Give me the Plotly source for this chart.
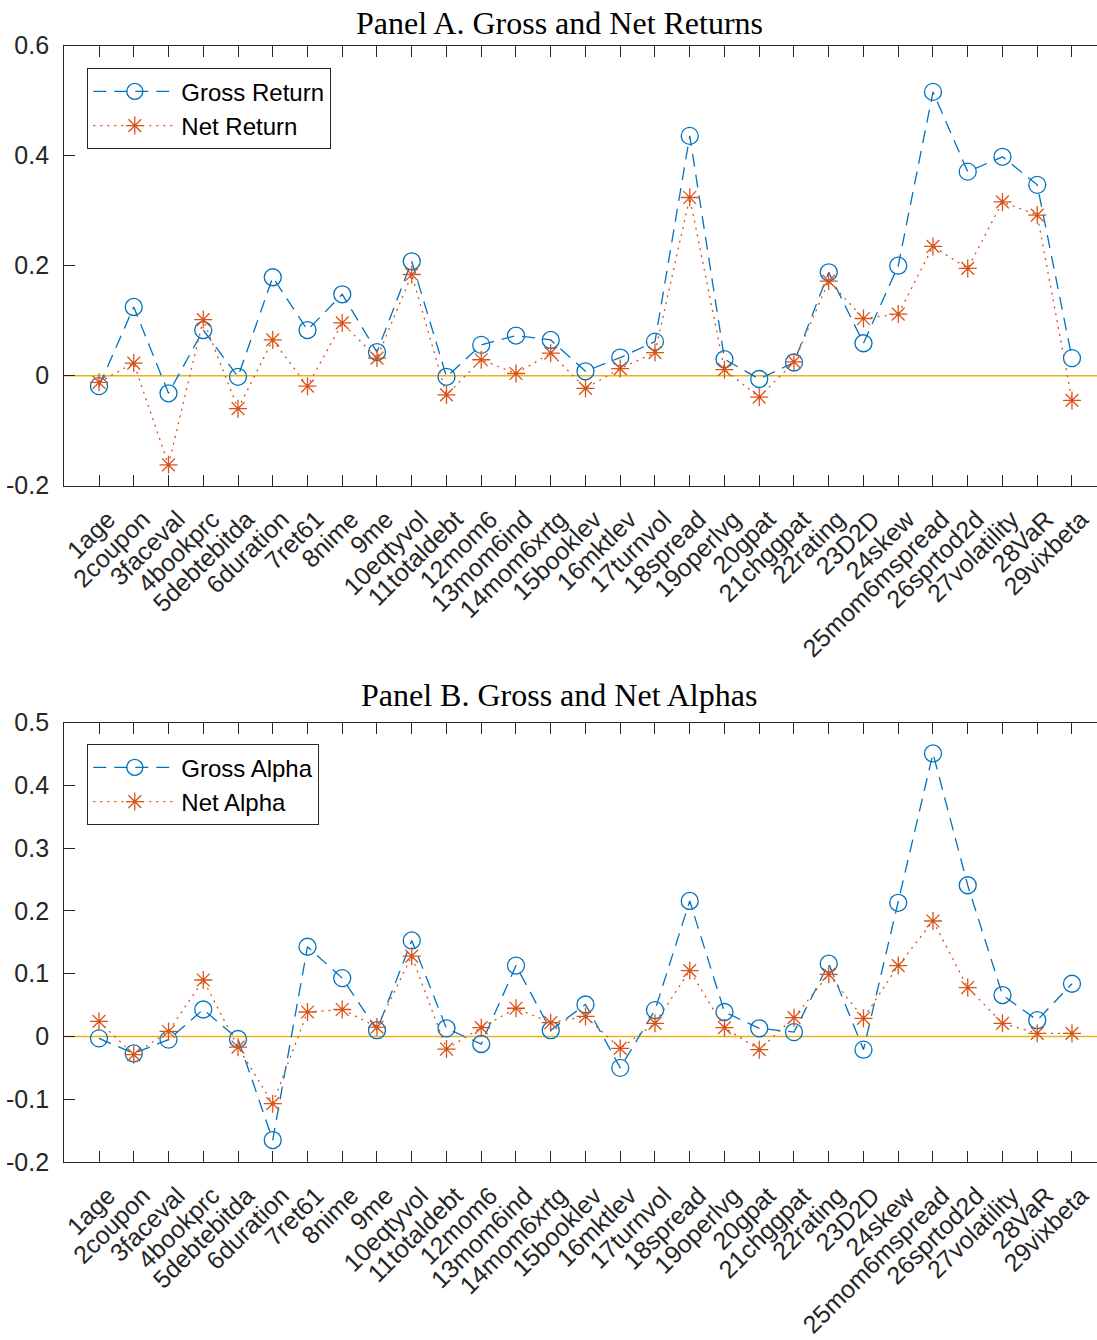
import plotly.graph_objects as go

categories = ["1age", "2coupon", "3faceval", "4bookprc", "5debtebitda", "6duration",
              "7ret61", "8nime", "9me", "10eqtyvol", "11totaldebt", "12mom6",
              "13mom6ind", "14mom6xrtg", "15booklev", "16mktlev", "17turnvol",
              "18spread", "19operlvg", "20gpat", "21chggpat", "22rating", "23D2D",
              "24skew", "25mom6mspread", "26sprtod2d", "27volatility", "28VaR", "29vixbeta"]

gross_return = [-0.019, 0.125, -0.032, 0.083, -0.002, 0.179, 0.083, 0.148, 0.043, 0.208,
                -0.002, 0.056, 0.073, 0.065, 0.008, 0.033, 0.062, 0.436, 0.030, -0.006,
                0.024, 0.188, 0.059, 0.200, 0.516, 0.371, 0.398, 0.347, 0.032]
net_return = [-0.012, 0.023, -0.162, 0.102, -0.060, 0.065, -0.019, 0.096, 0.032, 0.184,
              -0.035, 0.029, 0.004, 0.041, -0.023, 0.013, 0.042, 0.324, 0.011, -0.039,
              0.025, 0.172, 0.104, 0.112, 0.235, 0.195, 0.316, 0.292, -0.045]
gross_alpha = [-0.003, -0.027, -0.005, 0.043, -0.004, -0.165, 0.143, 0.093, 0.010, 0.153,
               0.013, -0.012, 0.113, 0.010, 0.051, -0.050, 0.042, 0.216, 0.039, 0.013,
               0.007, 0.116, -0.021, 0.213, 0.451, 0.241, 0.066, 0.026, 0.084]
net_alpha = [0.024, -0.029, 0.008, 0.090, -0.017, -0.107, 0.039, 0.043, 0.015, 0.128,
             -0.020, 0.014, 0.045, 0.022, 0.032, -0.019, 0.021, 0.105, 0.014, -0.021,
             0.030, 0.099, 0.029, 0.113, 0.184, 0.078, 0.021, 0.005, 0.005]

yticks_a = [-0.2, 0, 0.2, 0.4, 0.6]
yticklabels_a = ["-0.2", "0", "0.2", "0.4", "0.6"]
yticks_b = [-0.2, -0.1, 0, 0.1, 0.2, 0.3, 0.4, 0.5]
yticklabels_b = ["-0.2", "-0.1", "0", "0.1", "0.2", "0.3", "0.4", "0.5"]

title_a = "Panel A. Gross and Net Returns"
title_b = "Panel B. Gross and Net Alphas"

W, H = 1097, 1340
BLUE = "#0072BD"
ORANGE = "#D95319"
YELLOW = "#EDB120"
AX = "#262626"
SANS = "Liberation Sans, Arial, sans-serif"
SERIF = "Liberation Serif, Times New Roman, serif"

xpos = list(range(1, len(categories) + 1))

fig = go.Figure()

def add_panel(gross, net, gname, nname, xa, ya, legend):
    fig.add_trace(go.Scatter(
        x=xpos, y=gross, name=gname, mode="lines+markers",
        line=dict(color=BLUE, width=1.3, dash="13px,8px"),
        marker=dict(symbol="circle-open", size=17, color=BLUE, line=dict(width=1.3, color=BLUE)),
        xaxis=xa, yaxis=ya, legend=legend))
    fig.add_trace(go.Scatter(
        x=xpos, y=net, name=nname, mode="lines+markers",
        line=dict(color=ORANGE, width=1.3, dash="2px,5px"),
        marker=dict(symbol="asterisk-open", size=15, color=ORANGE, line=dict(width=1.3, color=ORANGE)),
        xaxis=xa, yaxis=ya, legend=legend))

add_panel(gross_return, net_return, "Gross Return", "Net Return", "x", "y", "legend")
add_panel(gross_alpha, net_alpha, "Gross Alpha", "Net Alpha", "x2", "y2", "legend2")

x_left = 64.25 / W
xrange = [0, 29.72]

common_x = dict(
    range=xrange, domain=[x_left, 1], tickmode="array", tickvals=xpos, ticktext=categories,
    tickangle=-45, ticks="inside", ticklen=11, tickwidth=1, tickcolor=AX,
    showline=True, linecolor=AX, linewidth=1.3, mirror="ticks", showgrid=False, zeroline=False,
    tickfont=dict(family=SANS, size=25, color=AX), automargin=False,
    ticklabelstandoff=8, ticklabelshift=9,
)
common_y = dict(
    ticks="inside", ticklen=11, tickwidth=1, tickcolor=AX, showline=True, linecolor=AX,
    linewidth=1.3, showgrid=False, zeroline=False, tickmode="array",
    tickfont=dict(family=SANS, size=25, color=AX), automargin=False, ticklabelstandoff=9,
)

legend_common = dict(xanchor="left", yanchor="top", bgcolor="white", bordercolor=AX,
                     borderwidth=1.3, font=dict(family=SANS, size=24, color="black"),
                     itemwidth=83, tracegroupgap=0)

fig.update_layout(
    width=W, height=H, margin=dict(l=0, r=0, t=0, b=0),
    paper_bgcolor="white", plot_bgcolor="white",
    xaxis=dict(**common_x, anchor="y"),
    yaxis=dict(**common_y, range=[-0.2, 0.6], tickvals=yticks_a, ticktext=yticklabels_a,
               domain=[1 - 485.7 / H, 1 - 45.7 / H], anchor="x"),
    xaxis2=dict(**common_x, anchor="y2"),
    yaxis2=dict(**common_y, range=[-0.2, 0.5], tickvals=yticks_b, ticktext=yticklabels_b,
                domain=[1 - 1162 / H, 1 - 722.7 / H], anchor="x2"),
    legend=dict(x=87 / W, y=1 - 68 / H, **legend_common),
    legend2=dict(x=87 / W, y=1 - 744 / H, **legend_common),
    showlegend=True,
)

fig.add_hline(y=0, line=dict(color=YELLOW, width=1.5), xref="x", yref="y", layer="below")
fig.add_shape(type="line", xref="x2 domain", yref="y2", x0=0, x1=1, y0=0, y1=0,
              line=dict(color=YELLOW, width=1.5), layer="below")

fig.add_annotation(text=title_a, x=559 / W, y=1 - 23 / H, xref="paper", yref="paper",
                   xanchor="center", yanchor="middle", showarrow=False,
                   font=dict(family=SERIF, size=32, color="black"))
fig.add_annotation(text=title_b, x=559 / W, y=1 - 695 / H, xref="paper", yref="paper",
                   xanchor="center", yanchor="middle", showarrow=False,
                   font=dict(family=SERIF, size=32, color="black"))

fig.write_html("out.html")
